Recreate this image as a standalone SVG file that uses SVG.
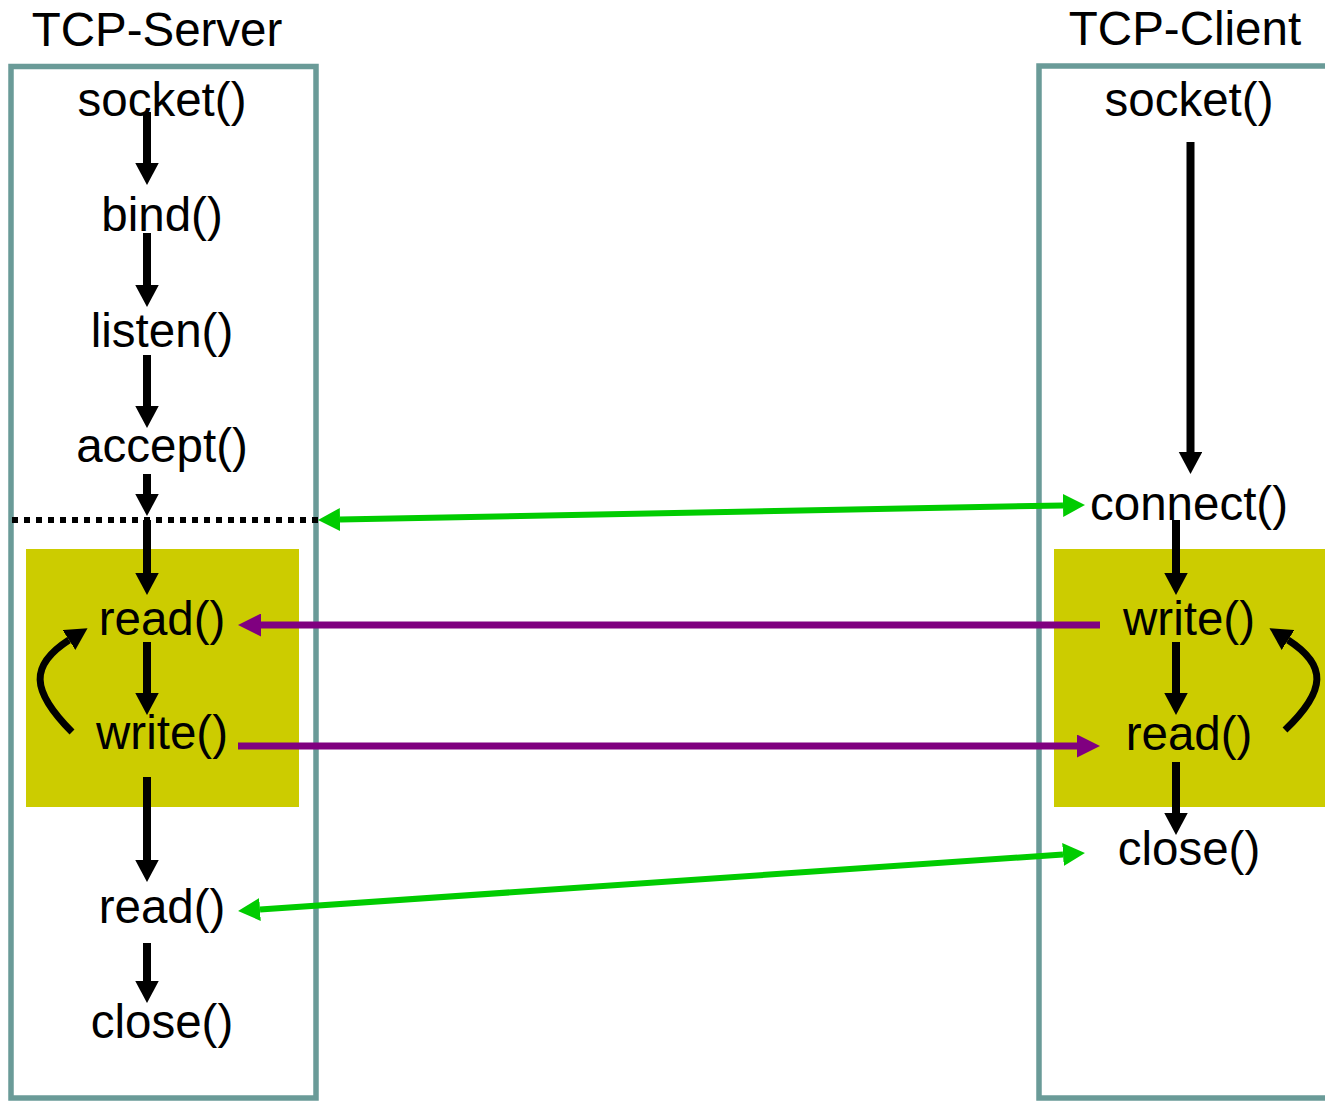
<svg xmlns="http://www.w3.org/2000/svg" width="1325" height="1101" viewBox="0 0 1325 1101">
  <style>
    text { font-family: "Liberation Sans", Arial, sans-serif; font-size: 47.5px; fill: #000; text-anchor: middle; }
    .lane { fill: #fff; stroke: #6a9b98; stroke-width: 5.5; }
    .loop { fill: #cccc00; }
    .flow { stroke: #000; stroke-width: 8; fill: none; marker-end: url(#headBlack); }
    .curl { stroke: #000; stroke-width: 7; fill: none; marker-end: url(#headBlack); }
    .ctl { stroke: #00cc00; stroke-width: 6; fill: none; marker-start: url(#headGreen); marker-end: url(#headGreen); }
    .data { stroke: #800080; stroke-width: 7; fill: none; marker-end: url(#headPurple); }
    .sync { stroke: #000; stroke-width: 6; stroke-dasharray: 6 6; fill: none; }
  </style>
  <defs>
    <!-- arrowheads sit after the end of the path (refX=0) -->
    <marker id="headBlack" markerUnits="userSpaceOnUse" markerWidth="22" markerHeight="24" refX="0" refY="11.75" orient="auto">
      <path d="M0,0 L22,11.75 L0,23.5 z" fill="#000"/>
    </marker>
    <marker id="headGreen" markerUnits="userSpaceOnUse" markerWidth="22" markerHeight="23" refX="0" refY="11.5" orient="auto-start-reverse">
      <path d="M0,0 L22,11.5 L0,23 z" fill="#00cc00"/>
    </marker>
    <marker id="headPurple" markerUnits="userSpaceOnUse" markerWidth="23" markerHeight="23" refX="0" refY="11.5" orient="auto">
      <path d="M0,0 L23,11.5 L0,23 z" fill="#800080"/>
    </marker>
  </defs>

  <!-- lanes -->
  <g id="server-lane">
    <rect class="lane" x="11" y="66.5" width="305" height="1031.5"/>
    <rect class="loop" x="26" y="549" width="273" height="258"/>
    <text x="157" y="46">TCP-Server</text>
  </g>
  <g id="client-lane">
    <rect class="lane" x="1039" y="66" width="320" height="1032"/>
    <rect class="loop" x="1054" y="549" width="290" height="258"/>
    <text x="1185" y="45">TCP-Client</text>
  </g>

  <!-- connectors -->
  <g id="connectors">
    <line class="sync" x1="12" y1="520" x2="332" y2="520"/>

    <line class="flow" x1="147" y1="112" x2="147" y2="163"/>
    <line class="flow" x1="147" y1="233" x2="147" y2="285"/>
    <line class="flow" x1="147" y1="355" x2="147" y2="406"/>
    <line class="flow" x1="147" y1="474" x2="147" y2="494"/>
    <line class="flow" x1="147" y1="520" x2="147" y2="573"/>
    <line class="flow" x1="147" y1="642" x2="147" y2="693"/>
    <line class="flow" x1="147" y1="777" x2="147" y2="860"/>
    <line class="flow" x1="147" y1="943" x2="147" y2="981"/>

    <line class="flow" x1="1190.5" y1="142" x2="1190.5" y2="452"/>
    <line class="flow" x1="1176" y1="520" x2="1176" y2="573"/>
    <line class="flow" x1="1176" y1="642" x2="1176" y2="693"/>
    <line class="flow" x1="1176" y1="762" x2="1176" y2="813"/>

    <path class="curl" d="M72,732 C30,690 30,665 69,640"/>
    <path class="curl" d="M1285,730 C1327,690 1327,665 1288,640"/>

    <line class="ctl" x1="340" y1="519.6" x2="1063" y2="505.4"/>
    <line class="ctl" x1="1063" y1="854.5" x2="260" y2="909.5"/>

    <line class="data" x1="1100" y1="625" x2="261" y2="625"/>
    <line class="data" x1="238" y1="746" x2="1077" y2="746"/>
  </g>

  <!-- server calls -->
  <g id="srv-socket"><text x="162" y="116">socket()</text></g>
  <g id="srv-bind"><text x="162" y="231">bind()</text></g>
  <g id="srv-listen"><text x="162" y="347">listen()</text></g>
  <g id="srv-accept"><text x="162" y="462">accept()</text></g>
  <g id="srv-read"><text x="162" y="635">read()</text></g>
  <g id="srv-write"><text x="162" y="749">write()</text></g>
  <g id="srv-read2"><text x="162" y="923">read()</text></g>
  <g id="srv-close"><text x="162" y="1038">close()</text></g>

  <!-- client calls -->
  <g id="cli-socket"><text x="1189" y="116">socket()</text></g>
  <g id="cli-connect"><text x="1189" y="520">connect()</text></g>
  <g id="cli-write"><text x="1189" y="635">write()</text></g>
  <g id="cli-read"><text x="1189" y="750">read()</text></g>
  <g id="cli-close"><text x="1189" y="865">close()</text></g>
</svg>
